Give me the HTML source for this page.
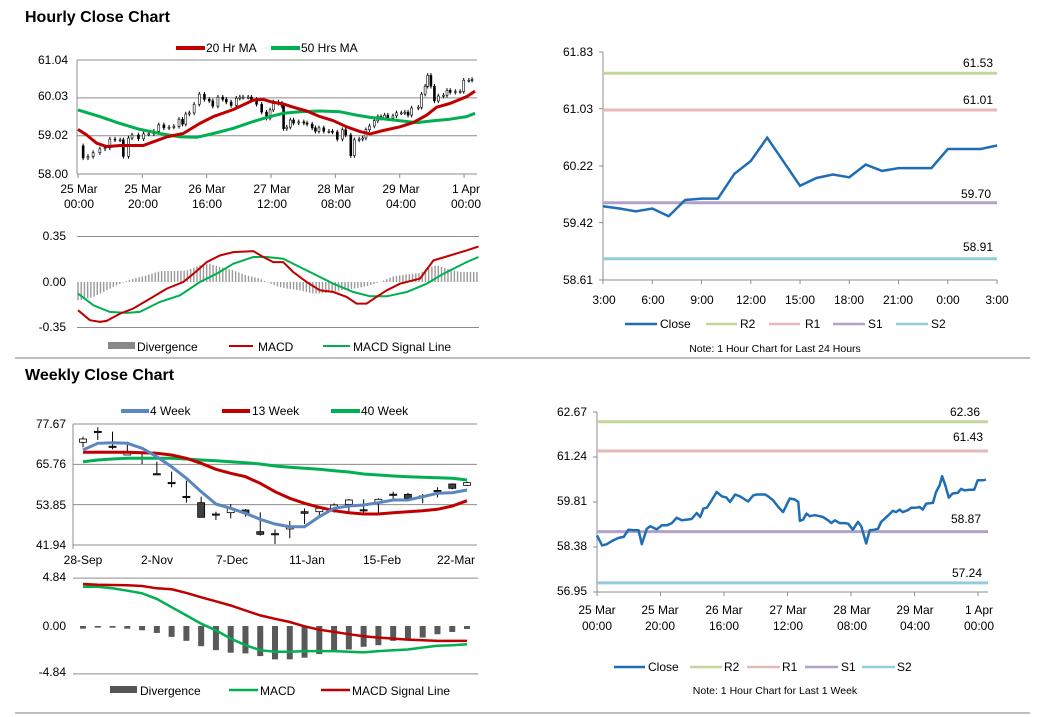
<!DOCTYPE html>
<html><head><meta charset="utf-8"><style>
html,body{margin:0;padding:0;background:#fff;}
svg{display:block;font-family:"Liberation Sans",Arial,sans-serif;}
.t{font-size:12px;fill:#000;}
.ttl{font-size:16px;font-weight:bold;fill:#000;}
.n{font-size:10.5px;fill:#000;}
</style></head><body>
<svg id="svg" width="1043" height="717" viewBox="0 0 1043 717" xmlns="http://www.w3.org/2000/svg">
<text x="25" y="22" class="ttl">Hourly Close Chart</text>
<text x="25" y="380" class="ttl">Weekly Close Chart</text>
<line x1="15" y1="358" x2="1030" y2="358" stroke="#999" stroke-width="1.3"/>
<line x1="15" y1="713" x2="1030" y2="713" stroke="#999" stroke-width="1.3"/>

<!-- hourly left legend -->
<g>
<line x1="176" y1="48" x2="205" y2="48" stroke="#c00000" stroke-width="4"/><text x="206" y="52" class="t">20 Hr MA</text>
<line x1="271" y1="48" x2="300" y2="48" stroke="#00b050" stroke-width="4"/><text x="301" y="52" class="t">50 Hrs MA</text>
</g>
<g class="t" text-anchor="end">
<text x="68" y="64">61.04</text><text x="68" y="100">60.03</text><text x="68" y="139">59.02</text><text x="68" y="178">58.00</text>
</g>
<g class="t" text-anchor="middle">
<text x="79" y="193">25 Mar</text><text x="79" y="208">00:00</text>
<text x="143" y="193">25 Mar</text><text x="143" y="208">20:00</text>
<text x="207" y="193">26 Mar</text><text x="207" y="208">16:00</text>
<text x="272" y="193">27 Mar</text><text x="272" y="208">12:00</text>
<text x="336" y="193">28 Mar</text><text x="336" y="208">08:00</text>
<text x="401" y="193">29 Mar</text><text x="401" y="208">04:00</text>
<text x="466" y="193">1 Apr</text><text x="466" y="208">00:00</text>
</g>
<g class="t" text-anchor="end">
<text x="66" y="240">0.35</text><text x="66" y="286">0.00</text><text x="66" y="331">-0.35</text>
</g>
<g>
<rect x="108" y="342" width="27" height="7" fill="#888"/><text x="137" y="351" class="t">Divergence</text>
<line x1="229" y1="346" x2="253" y2="346" stroke="#c00000" stroke-width="2"/><text x="258" y="351" class="t">MACD</text>
<line x1="323" y1="346" x2="350" y2="346" stroke="#00b050" stroke-width="2"/><text x="353" y="351" class="t">MACD Signal Line</text>
</g>

<!-- weekly left -->
<g>
<line x1="121" y1="411" x2="149" y2="411" stroke="#5b86c0" stroke-width="4"/><text x="150" y="415" class="t">4 Week</text>
<line x1="222" y1="411" x2="250" y2="411" stroke="#c00000" stroke-width="4"/><text x="252" y="415" class="t">13 Week</text>
<line x1="331" y1="411" x2="360" y2="411" stroke="#00b050" stroke-width="4"/><text x="361" y="415" class="t">40 Week</text>
</g>
<g class="t" text-anchor="end">
<text x="66" y="428">77.67</text><text x="66" y="468">65.76</text><text x="66" y="509">53.85</text><text x="66" y="549">41.94</text>
</g>
<g class="t" text-anchor="middle">
<text x="83" y="564">28-Sep</text><text x="157" y="564">2-Nov</text><text x="232" y="564">7-Dec</text><text x="307" y="564">11-Jan</text><text x="382" y="564">15-Feb</text><text x="456" y="564">22-Mar</text>
</g>
<g class="t" text-anchor="end">
<text x="66" y="581">4.84</text><text x="66" y="630">0.00</text><text x="66" y="676">-4.84</text>
</g>
<g>
<rect x="110" y="686" width="27" height="7" fill="#555"/><text x="140" y="695" class="t">Divergence</text>
<line x1="229" y1="690" x2="258" y2="690" stroke="#00b050" stroke-width="2.5"/><text x="260" y="695" class="t">MACD</text>
<line x1="321" y1="690" x2="350" y2="690" stroke="#c00000" stroke-width="2.5"/><text x="352" y="695" class="t">MACD Signal Line</text>
</g>

<!-- right top -->
<g class="t" text-anchor="end">
<text x="593" y="56">61.83</text><text x="593" y="113">61.03</text><text x="593" y="170">60.22</text><text x="593" y="227">59.42</text><text x="593" y="284">58.61</text>
</g>
<g class="t" text-anchor="middle">
<text x="604" y="304">3:00</text><text x="653" y="304">6:00</text><text x="702" y="304">9:00</text><text x="751" y="304">12:00</text><text x="800" y="304">15:00</text><text x="849" y="304">18:00</text><text x="898" y="304">21:00</text><text x="948" y="304">0:00</text><text x="997" y="304">3:00</text>
</g>
<g class="t" text-anchor="end">
<text x="993" y="67">61.53</text><text x="993" y="104">61.01</text><text x="991" y="198">59.70</text><text x="993" y="251">58.91</text>
</g>
<g>
<line x1="625" y1="324" x2="657" y2="324" stroke="#1f6eb5" stroke-width="2.5"/><text x="660" y="328" class="t">Close</text>
<line x1="706" y1="324" x2="737" y2="324" stroke="#c3d69b" stroke-width="2.5"/><text x="740" y="328" class="t">R2</text>
<line x1="769" y1="324" x2="800" y2="324" stroke="#e6b9b8" stroke-width="2.5"/><text x="805" y="328" class="t">R1</text>
<line x1="833" y1="324" x2="865" y2="324" stroke="#b3a2c7" stroke-width="2.5"/><text x="868" y="328" class="t">S1</text>
<line x1="896" y1="324" x2="928" y2="324" stroke="#93cddd" stroke-width="2.5"/><text x="931" y="328" class="t">S2</text>
</g>
<text x="775" y="352" class="n" text-anchor="middle">Note: 1 Hour Chart for Last 24 Hours</text>

<!-- right bottom -->
<g class="t" text-anchor="end">
<text x="587" y="416">62.67</text><text x="587" y="460">61.24</text><text x="587" y="505">59.81</text><text x="587" y="550">58.38</text><text x="587" y="595">56.95</text>
</g>
<g class="t" text-anchor="middle">
<text x="597" y="614">25 Mar</text><text x="597" y="630">00:00</text>
<text x="660" y="614">25 Mar</text><text x="660" y="630">20:00</text>
<text x="724" y="614">26 Mar</text><text x="724" y="630">16:00</text>
<text x="788" y="614">27 Mar</text><text x="788" y="630">12:00</text>
<text x="852" y="614">28 Mar</text><text x="852" y="630">08:00</text>
<text x="915" y="614">29 Mar</text><text x="915" y="630">04:00</text>
<text x="979" y="614">1 Apr</text><text x="979" y="630">00:00</text>
</g>
<g class="t" text-anchor="end">
<text x="980" y="416">62.36</text><text x="983" y="441">61.43</text><text x="981" y="523">58.87</text><text x="982" y="577">57.24</text>
</g>
<g>
<line x1="614" y1="667" x2="645" y2="667" stroke="#1f6eb5" stroke-width="2.5"/><text x="648" y="671" class="t">Close</text>
<line x1="690" y1="667" x2="722" y2="667" stroke="#c3d69b" stroke-width="2.5"/><text x="724" y="671" class="t">R2</text>
<line x1="747" y1="667" x2="780" y2="667" stroke="#e6b9b8" stroke-width="2.5"/><text x="782" y="671" class="t">R1</text>
<line x1="805" y1="667" x2="838" y2="667" stroke="#b3a2c7" stroke-width="2.5"/><text x="841" y="671" class="t">S1</text>
<line x1="862" y1="667" x2="895" y2="667" stroke="#93cddd" stroke-width="2.5"/><text x="897" y="671" class="t">S2</text>
</g>
<text x="775" y="694" class="n" text-anchor="middle">Note: 1 Hour Chart for Last 1 Week</text>
</svg>
<script>
// ---- hourly (1 week) close series (hour offset from 25 Mar 00:00) ----
const wkHours = [0,1.6,3.1,4.7,6.8,8.4,9.9,11.5,13.1,14.1,15.7,16.8,18.8,20.4,22,23.6,25.1,26.7,28.3,29.8,31.4,32.5,33.5,34.6,36.1,37.7,39.3,40.8,41.9,43.5,45,46.1,47.6,49.2,50.3,51.3,52.9,53.9,55.5,57.1,58.6,59.7,60.7,62.3,63.4,63.9,64.9,66,67,68.6,70.2,71.2,72.8,73.8,74.9,76.4,78,79.1,80.6,82.2,83.2,84.8,85.9,87.4,88.5,89.5,90.6,92.1,93.2,94.2,95.3,96.3,97.9,99,100.5,101.6,102.6,103.7,105.8,106.8,107.9,108.7,109.7,110.8,112,113.6,114.7,115.7,117.3,118.8,119.9,121.5,122.5];
const wkClose = [58.75,58.43,58.47,58.57,58.67,58.70,58.93,58.91,58.91,58.47,58.96,59.04,58.94,59.07,59.07,59.14,59.31,59.23,59.25,59.27,59.46,59.33,59.60,59.63,59.86,60.13,59.99,59.95,59.81,60.05,59.99,59.92,59.83,60.02,60.05,60.05,60.05,59.99,59.86,59.65,59.49,59.71,59.92,59.89,59.81,59.21,59.25,59.44,59.36,59.39,59.36,59.33,59.23,59.14,59.23,59.14,59.14,59.12,58.93,59.18,59.04,58.49,58.91,58.93,58.96,59.18,59.28,59.42,59.53,59.49,59.57,59.49,59.55,59.63,59.63,59.65,59.57,59.76,59.78,60.13,60.34,60.63,60.34,59.95,60.08,60.10,60.23,60.18,60.20,60.20,60.50,60.50,60.52];
const ma20Hours = [0,2.7,5.8,8.9,13.1,17.2,20.3,23.4,27.6,32.7,37.9,42.1,48.3,54.5,57.6,60.7,63.8,66.9,71.1,75.2,79.4,83.5,87.7,90.8,94.9,100.1,104.2,108.4,111.5,115.6,120.8,123.4];
const ma20 = [59.19,59.04,58.82,58.73,58.76,58.76,58.76,58.86,58.99,59.08,59.35,59.53,59.72,59.97,59.99,59.91,59.87,59.78,59.68,59.53,59.42,59.26,59.13,59.07,59.16,59.26,59.37,59.57,59.78,59.88,60.06,60.21];
const ma50Hours = [0,6.8,13,19.2,25.5,31.7,36.9,42.1,48.3,54.5,58.7,63.8,69,75.2,81.5,86.6,90.8,96,100.1,105.3,110.5,115.6,120.8,123.4];
const ma50 = [59.71,59.53,59.35,59.19,59.08,58.99,58.98,59.08,59.22,59.40,59.51,59.62,59.66,59.68,59.66,59.57,59.51,59.46,59.42,59.37,59.42,59.46,59.53,59.62];
const macdHHours = [0,3.7,6.8,8.9,13.1,17.2,22.4,27.6,32.7,35.9,40,44.1,48.3,54.5,57.6,60.7,63.8,66.9,71.1,75.2,79.4,83.5,86.6,89.7,92.8,96,100.1,106.3,110.5,115.6,120.8,124.5];
const macdH = [-0.217,-0.294,-0.307,-0.299,-0.243,-0.204,-0.128,-0.051,0,0.064,0.153,0.204,0.230,0.238,0.192,0.153,0.153,0.077,0,-0.064,-0.077,-0.115,-0.166,-0.166,-0.115,-0.064,-0.013,0.026,0.166,0.204,0.243,0.273];
const sigHHours = [0,4.8,9.9,15.1,19.2,25.5,31.7,37.9,43.1,48.3,54.5,58.7,63.8,69,74.2,79.4,85.6,90.8,96,102.2,108.4,113.6,120.8,124.5];
const sigH = [-0.089,-0.179,-0.230,-0.238,-0.230,-0.153,-0.102,0,0.064,0.141,0.192,0.192,0.179,0.115,0.051,-0.013,-0.077,-0.110,-0.110,-0.077,-0.013,0.064,0.153,0.192];
const divHHours = [0.6,4.8,8.9,13.1,17.2,21.3,25.5,29.6,33.8,37.9,41,44.1,48.3,52.4,56.6,58.7,61.8,64.9,69,73.2,77.3,81.5,85.6,89.7,93.9,98,102.2,106.3,109.4,111.5,114.6,118.8,124.5];
const divH = [-0.141,-0.115,-0.064,-0.013,0.026,0.051,0.084,0.084,0.089,0.128,0.141,0.115,0.089,0.051,0.026,0,-0.033,-0.051,-0.064,-0.089,-0.084,-0.064,-0.051,-0.033,0,0.043,0.059,0.069,0.115,0.128,0.102,0.077,0.077];
// ---- weekly ----
const wkOpen  = [72.26,75.5,71.1,68.52,67.8,63.0,60.4,56.3,54.44,51.1,51.49,52.27,45.88,45.3,46.67,51.78,51.78,52.77,53.95,52.35,54.44,56.95,56.9,56.45,58.05,59.95,59.56];
const wkCls   = [73.24,75.4,70.98,69.2,67.73,62.9,60.35,56.2,50.11,51.0,52.77,51.29,45.09,45.19,47.35,51.29,52.77,53.75,55.23,52.27,55.43,56.9,55.72,56.41,57.98,58.67,60.35];
const wkHigh  = [73.93,76.69,75.41,72.45,69.0,66.55,63.6,60.94,56.2,51.78,54.05,52.57,51.59,46.57,49.03,52.77,53.26,54.24,55.52,55.43,55.72,57.69,57.39,57.0,58.97,60.15,60.64];
const wkLow   = [70.78,72.94,70.19,68.52,65.86,62.6,58.97,54.44,50.1,49.32,49.81,50.31,44.70,42.24,43.91,48.14,50.31,51.49,51.09,51.09,51.29,55.23,55.43,54.24,56.02,58.38,59.36];
const ma4w  = [69.99,71.96,72.16,71.96,70.48,68.02,65.07,61.63,57.69,54.05,52.77,51.29,49.52,48.14,47.35,47.35,50.31,52.77,53.46,53.75,54.44,55.23,55.23,56.21,57.20,57.39,58.18];
const ma13w = [69.3,69.3,69.3,69.3,69.2,69.01,68.52,67.53,66.06,64.28,63.1,62.12,60.15,57.69,55.72,54.24,53.06,52.08,51.49,51.09,51.09,51.49,51.78,52.08,52.47,53.46,55.03];
const ma40w = [66.55,67.04,67.34,67.53,67.53,67.53,67.53,67.34,67.04,66.84,66.55,66.25,65.86,65.27,64.87,64.58,64.28,63.89,63.5,62.91,62.61,62.31,62.12,61.92,61.82,61.63,61.13];
const macdW = [3.97,3.97,3.81,3.57,3.30,2.74,1.90,1.07,0.23,-0.43,-1.27,-1.94,-2.44,-2.60,-2.60,-2.54,-2.54,-2.54,-2.60,-2.67,-2.54,-2.44,-2.37,-2.17,-2.0,-1.94,-1.84];
const sigW  = [4.24,4.17,4.14,4.11,4.04,3.81,3.71,3.34,2.90,2.50,2.07,1.57,1.07,0.73,0.40,-0.03,-0.37,-0.60,-0.83,-1.03,-1.17,-1.27,-1.37,-1.44,-1.50,-1.50,-1.50];
const divW  = [-0.27,-0.17,-0.17,-0.27,-0.43,-0.70,-1.10,-1.50,-2.04,-2.44,-2.70,-2.77,-3.04,-3.37,-3.37,-3.20,-2.84,-2.50,-2.37,-2.10,-1.94,-1.50,-1.37,-1.17,-0.83,-0.60,-0.30];
// ---- last 24h ----
const hr24Hours = [0,1,2,3,4,5,6,7,8,9,10,11,12,13,14,15,16,17,18,19,20,21,22,23,24];
const hr24Close = [59.65,59.62,59.58,59.62,59.51,59.74,59.76,59.76,60.11,60.29,60.62,60.28,59.94,60.05,60.10,60.06,60.24,60.15,60.19,60.19,60.19,60.46,60.46,60.46,60.51];
const piv24Names = ['r2','r1','s1','s2'];
const piv24 = [61.53,61.01,59.70,58.91];
const pivWk = [62.36,61.43,58.87,57.24];
const pivColors = ['#c3d69b','#e6b9b8','#b3a2c7','#93cddd'];

const NS='http://www.w3.org/2000/svg';
const S=document.getElementById('svg');
function el(tag,a){const e=document.createElementNS(NS,tag);for(const k in a)e.setAttribute(k,a[k]);S.appendChild(e);return e;}
function interp(xs,ys,x){if(x<=xs[0])return ys[0];for(let i=1;i<xs.length;i++){if(x<=xs[i]){const t=(x-xs[i-1])/(xs[i]-xs[i-1]);return ys[i-1]+t*(ys[i]-ys[i-1]);}}return ys[ys.length-1];}
function pts(xs,ys,fx,fy){return xs.map((x,i)=>fx(x).toFixed(1)+','+fy(ys[i]).toFixed(1)).join(' ');}

// scales
const xH=h=>78+h*3.217, yH=v=>60+(61.04-v)*37.5, yHM=v=>282-v*130;
const xW=i=>83+i*14.77, yW=v=>424+(77.67-v)*3.3865, yWM=v=>626-v*9.9;
const xR=h=>603+h*16.42, yR=v=>52+(61.83-v)*70.8;
const xB=h=>597+h*3.175, yB=v=>412+(62.67-v)*31.47;

let e;
// ===== hourly left grid =====
[61.04,60.03,59.02,58.00].forEach(v=>{e=el('line',{x1:77,x2:477,y1:yH(v),y2:yH(v),stroke:'#8c8c8c','stroke-width':1});

});
e=el('line',{x1:77,x2:77,y1:60,y2:174,stroke:'#8c8c8c'});


[0,20,40,60,80,100,120].forEach(h=>{e=el('line',{x1:xH(h),x2:xH(h),y1:174,y2:178,stroke:'#8c8c8c'});

});
// candles
for(let i=1;i<wkClose.length;i++){
  const o=wkClose[i-1],c=wkClose[i],x=xH(wkHours[i]);
  e=el('line',{x1:x,x2:x,y1:yH(Math.max(o,c)+0.06),y2:yH(Math.min(o,c)-0.06),stroke:'#000','stroke-width':1});
  
  
  const top=yH(Math.max(o,c)),hgt=Math.max(1,Math.abs(yH(o)-yH(c)));
  e=el('rect',{x:x-1,y:top,width:2,height:hgt,fill:c>=o?'#fff':'#000',stroke:'#000','stroke-width':0.6});
  
  
}
e=el('polyline',{points:pts(ma50Hours,ma50,xH,yH),fill:'none',stroke:'#00b050','stroke-width':3,'stroke-linejoin':'round'});


e=el('polyline',{points:pts(ma20Hours,ma20,xH,yH),fill:'none',stroke:'#c00000','stroke-width':3,'stroke-linejoin':'round'});



// ===== hourly MACD =====
[0.35,-0.35].forEach(v=>{e=el('line',{x1:77,x2:479,y1:yHM(v),y2:yHM(v),stroke:'#8c8c8c'});

});
for(let h=0;h<=124;h++){
  const v=interp(divHHours,divH,h);
  e=el('rect',{x:xH(h)-0.7,y:Math.min(yHM(0),yHM(v)),width:1.4,height:Math.abs(yHM(v)-yHM(0)),fill:'#999'});
  
  
}
e=el('polyline',{points:pts(sigHHours,sigH,xH,yHM),fill:'none',stroke:'#00b050','stroke-width':2});


e=el('polyline',{points:pts(macdHHours,macdH,xH,yHM),fill:'none',stroke:'#c00000','stroke-width':2});



// ===== weekly =====
[77.67,65.76,53.85,41.94].forEach(v=>{e=el('line',{x1:73,x2:477,y1:yW(v),y2:yW(v),stroke:'#8c8c8c'});

});
e=el('line',{x1:73,x2:73,y1:424,y2:549,stroke:'#8c8c8c'});


for(let i=0;i<wkOpen.length;i++){
  const x=xW(i),o=wkOpen[i],c=wkCls[i];
  e=el('line',{x1:x,x2:x,y1:yW(wkHigh[i]),y2:yW(wkLow[i]),stroke:'#000','stroke-width':1});
  
  
  e=el('rect',{x:x-3.5,y:yW(Math.max(o,c)),width:7,height:Math.max(1.2,Math.abs(yW(o)-yW(c))),fill:c>=o?'#fff':'#404040',stroke:'#000','stroke-width':0.8});
  
  
}
const idx=ma4w.map((_,i)=>i);
e=el('polyline',{points:pts(idx,ma40w,xW,yW),fill:'none',stroke:'#00b050','stroke-width':3});


e=el('polyline',{points:pts(idx,ma13w,xW,yW),fill:'none',stroke:'#c00000','stroke-width':3});


e=el('polyline',{points:pts(idx,ma4w,xW,yW),fill:'none',stroke:'#5b86c0','stroke-width':3});



// weekly MACD
[4.84,-4.84].forEach(v=>{e=el('line',{x1:73,x2:478,y1:yWM(v),y2:yWM(v),stroke:'#8c8c8c'});

});
divW.forEach((v,i)=>{e=el('rect',{x:xW(i)-3,y:Math.min(yWM(0),yWM(v)),width:6,height:Math.abs(yWM(v)-yWM(0)),fill:'#595959'});

});
e=el('polyline',{points:pts(idx,macdW,xW,yWM),fill:'none',stroke:'#00b050','stroke-width':2.5});


e=el('polyline',{points:pts(idx,sigW,xW,yWM),fill:'none',stroke:'#c00000','stroke-width':2.5});



// ===== right top (24h) =====
e=el('line',{x1:603,x2:603,y1:52,y2:280,stroke:'#8c8c8c'});


e=el('line',{x1:603,x2:997,y1:280,y2:280,stroke:'#8c8c8c'});


[61.83,61.03,60.22,59.42,58.61].forEach(v=>{e=el('line',{x1:599,x2:603,y1:yR(v),y2:yR(v),stroke:'#8c8c8c'});

});
for(let h=0;h<=24;h+=3){e=el('line',{x1:xR(h),x2:xR(h),y1:280,y2:284,stroke:'#8c8c8c'});

}
piv24.forEach((v,i)=>{e=el('line',{x1:603,x2:997,y1:yR(v),y2:yR(v),stroke:pivColors[i],'stroke-width':3});

});
e=el('polyline',{points:pts(hr24Hours,hr24Close,xR,yR),fill:'none',stroke:'#1f6eb5','stroke-width':2.5});



// ===== right bottom (1 week) =====
e=el('line',{x1:597,x2:597,y1:412,y2:592,stroke:'#8c8c8c'});


e=el('line',{x1:597,x2:988,y1:592,y2:592,stroke:'#8c8c8c'});


[62.67,61.24,59.81,58.38,56.95].forEach(v=>{e=el('line',{x1:593,x2:597,y1:yB(v),y2:yB(v),stroke:'#8c8c8c'});

});
[0,20,40,60,80,100,120].forEach(h=>{e=el('line',{x1:xB(h),x2:xB(h),y1:592,y2:596,stroke:'#8c8c8c'});

});
pivWk.forEach((v,i)=>{e=el('line',{x1:597,x2:988,y1:yB(v),y2:yB(v),stroke:pivColors[i],'stroke-width':3});

});
e=el('polyline',{points:pts(wkHours,wkClose,xB,yB),fill:'none',stroke:'#1f6eb5','stroke-width':2.5,'stroke-linejoin':'round'});


</script>
</body></html>
